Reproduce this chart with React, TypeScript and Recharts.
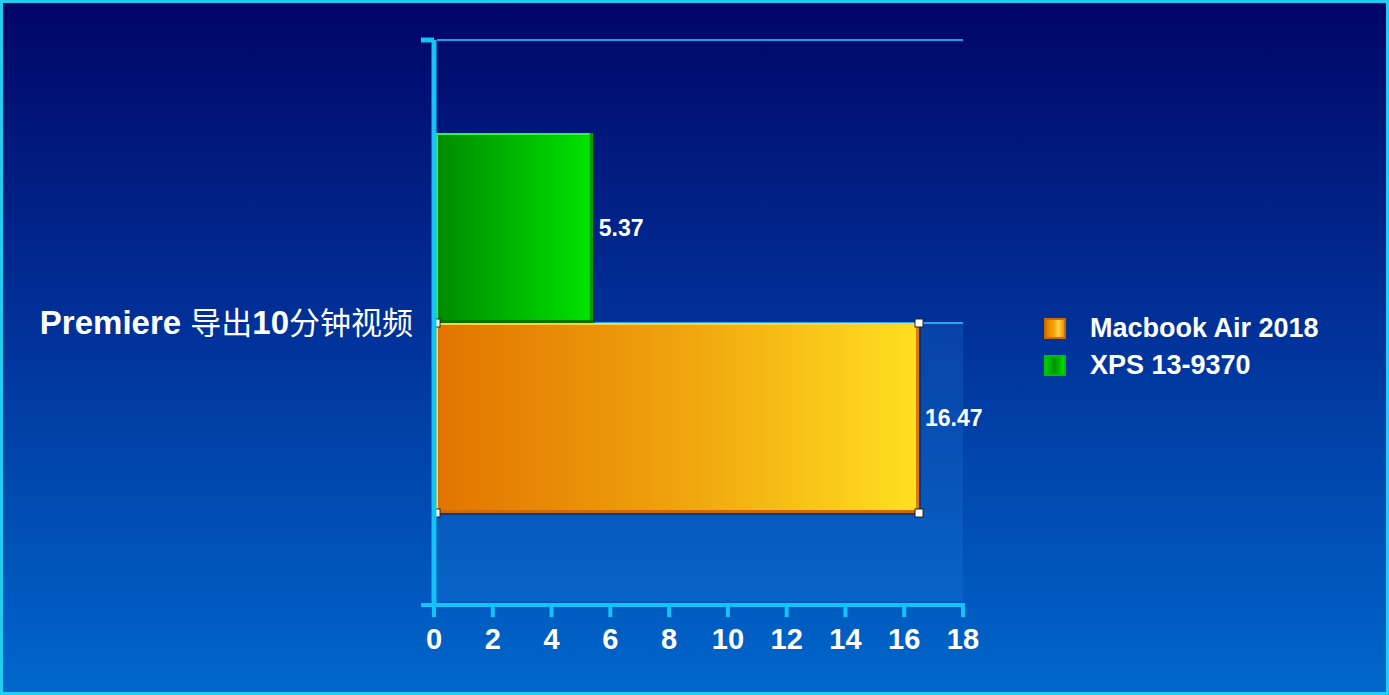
import { BarChart, Bar, XAxis, YAxis, Legend, LabelList } from "recharts"

// values
const categories = ["Premiere 导出10分钟视频"]
const macbookAir2018 = [16.47]
const xps139370 = [5.37]
const valueTicks = [0, 2, 4, 6, 8, 10, 12, 14, 16, 18]
const legendOrder = ["macbook", "xps"]

const data = categories.map((task, i) => ({
  task,
  macbook: macbookAir2018[i],
  xps: xps139370[i],
}))

const AXIS = "#14c3f7"
const FONT = "'Liberation Sans', Arial, 'Noto Sans CJK SC', sans-serif"
const CJK = /[\u4e00-\u9fff]/
const PLOT_WIDTH = 529

function CategoryTick(props: any) {
  const { x, y, payload } = props
  const half = payload?.offset ?? 0
  const parts = String(payload.value).split(/([\u4e00-\u9fff]+)/).filter(Boolean)
  return (
    <g>
      {/* plot frame top edge */}
      <line x1={x + 3} x2={x + PLOT_WIDTH} y1={y - half} y2={y - half} stroke="#1a9cf0" strokeWidth={2} />
      <line x1={x - 13} x2={x} y1={y - half} y2={y - half} stroke={AXIS} strokeWidth={5} />
      <line x1={x - 13} x2={x} y1={y + half} y2={y + half} stroke={AXIS} strokeWidth={4} />
      <text x={x - 21} y={y + 11} textAnchor="end" fill="#fff" fontFamily={FONT}>
        {parts.map((p, i) =>
          CJK.test(p) ? (
            <tspan key={i} fontSize={31} fontWeight={400} fontFamily="'Noto Sans CJK SC', sans-serif">
              {p}
            </tspan>
          ) : (
            <tspan key={i} fontSize={33} fontWeight={700}>
              {p}
            </tspan>
          )
        )}
      </text>
    </g>
  )
}

// lighter floor panel behind the lower bar
function PanelBackground(props: any) {
  const { x, y, width, height } = props
  const depth = height + 88
  return (
    <g>
      <rect x={x + 3} y={y} width={width - 3} height={depth} fill="#2a8ae8" opacity={0.2} />
      <line x1={x + 3} x2={x + width} y1={y} y2={y} stroke="#2aa6f0" strokeWidth={2} />
    </g>
  )
}

function XpsBar(props: any) {
  const { x, y, width, height } = props
  const left = x + 2
  const w = width - 1
  return (
    <g>
      <rect x={left + 2} y={y + 2} width={w} height={height} fill="#001650" opacity={0.45} />
      <rect x={left} y={y} width={w} height={height} fill="url(#gXps)" />
      <line x1={left} x2={left + w} y1={y + 1} y2={y + 1} stroke="#33f533" strokeWidth={2} />
      <line x1={left + 1} x2={left + 1} y1={y} y2={y + height} stroke="#33f533" strokeWidth={2} />
      <line x1={left + w - 1.5} x2={left + w - 1.5} y1={y} y2={y + height} stroke="#009a00" strokeWidth={3} />
      <line x1={left} x2={left + w} y1={y + height - 1.5} y2={y + height - 1.5} stroke="#007400" strokeWidth={3} />
    </g>
  )
}

function MacbookBar(props: any) {
  const { x, y, width, height } = props
  const left = x + 2
  const w = width - 1
  const corners = [
    [left, y],
    [left + w, y],
    [left, y + height],
    [left + w, y + height],
  ]
  return (
    <g>
      <rect x={left + 2} y={y + 2} width={w} height={height} fill="#001650" opacity={0.45} />
      <rect x={left} y={y} width={w} height={height} fill="url(#gMac)" />
      <line x1={left} x2={left + w} y1={y + 1} y2={y + 1} stroke="#ffd23a" strokeWidth={2} />
      <line x1={left + 1} x2={left + 1} y1={y} y2={y + height} stroke="#ffe040" strokeWidth={2} />
      <line x1={left + w - 1.5} x2={left + w - 1.5} y1={y} y2={y + height} stroke="#d9780e" strokeWidth={3} />
      <line x1={left} x2={left + w} y1={y + height - 1.5} y2={y + height - 1.5} stroke="#d06c08" strokeWidth={3} />
      {corners.map(([cx, cy], i) => (
        <rect key={i} x={cx - 4} y={cy - 4} width={8} height={8} fill="#fff" stroke="#222" strokeWidth={1} />
      ))}
    </g>
  )
}

const swatches: Record<string, { bg: string; border: string }> = {
  macbook: {
    bg: "linear-gradient(90deg, #e07a00 0%, #f6a600 45%, #ffd24a 70%, #f09000 100%)",
    border: "#c86a00",
  },
  xps: {
    bg: "linear-gradient(90deg, #00d000 0%, #009400 45%, #00b000 70%, #00e000 100%)",
    border: "#00c000",
  },
}

function LegendBox(props: any) {
  const items = [...(props.payload || [])].sort(
    (a: any, b: any) => legendOrder.indexOf(a.dataKey) - legendOrder.indexOf(b.dataKey)
  )
  return (
    <div style={{ fontFamily: FONT }}>
      {items.map((entry: any) => {
        const s = swatches[entry.dataKey as string]
        return (
          <div key={entry.dataKey} style={{ display: "flex", alignItems: "center", height: 37 }}>
            <div
              style={{
                width: 18,
                height: 17,
                background: s.bg,
                border: `2px solid ${s.border}`,
                marginRight: 24,
              }}
            />
            <span style={{ color: "#fff", fontSize: 27, fontWeight: 700, whiteSpace: "nowrap" }}>
              {entry.value}
            </span>
          </div>
        )
      })}
    </div>
  )
}

export default function App() {
  return (
    <div
      style={{
        position: "absolute",
        left: 0,
        top: 0,
        width: 1389,
        height: 695,
        overflow: "hidden",
        background: "linear-gradient(180deg, #000566 0%, #00329a 48%, #0068cc 100%)",
        boxShadow: "inset 0 0 0 3px #22cdf2",
      }}
    >
      <BarChart
        width={1389}
        height={695}
        data={data}
        layout="vertical"
        margin={{ top: 40, right: 426, bottom: 0, left: 0 }}
        barCategoryGap={93}
        barGap={0}
      >
        <defs>
          <linearGradient id="gXps" x1="0" y1="0" x2="1" y2="0">
            <stop offset="0%" stopColor="#008a00" />
            <stop offset="100%" stopColor="#00e400" />
          </linearGradient>
          <linearGradient id="gMac" x1="0" y1="0" x2="1" y2="0">
            <stop offset="0%" stopColor="#e27400" />
            <stop offset="50%" stopColor="#efa30e" />
            <stop offset="100%" stopColor="#ffe020" />
          </linearGradient>
        </defs>
        <XAxis
          type="number"
          domain={[0, 18]}
          ticks={valueTicks}
          interval={0}
          height={90}
          tickSize={12}
          tickMargin={11}
          axisLine={{ stroke: AXIS, strokeWidth: 4, strokeLinecap: "square" }}
          tickLine={{ stroke: AXIS, strokeWidth: 4 }}
          tick={{ fill: "#fff", fontSize: 29, fontWeight: 700, fontFamily: FONT }}
        />
        <YAxis
          type="category"
          dataKey="task"
          width={434}
          tickSize={0}
          tickMargin={0}
          tickLine={false}
          axisLine={{ stroke: AXIS, strokeWidth: 5 }}
          tick={<CategoryTick />}
        />
        <Legend
          layout="vertical"
          align="center"
          verticalAlign="middle"
          wrapperStyle={{ left: 1044, top: 310 }}
          content={<LegendBox />}
        />
        <Bar dataKey="xps" name="XPS 13-9370" fill="#00c000" shape={<XpsBar />} isAnimationActive={false}>
          <LabelList
            dataKey="xps"
            position="right"
            offset={7}
            fill="#fff"
            fontSize={23}
            fontWeight={700}
            fontFamily={FONT}
          />
        </Bar>
        <Bar
          dataKey="macbook"
          name="Macbook Air 2018"
          fill="#f0a000"
          background={<PanelBackground />}
          shape={<MacbookBar />}
          isAnimationActive={false}
        >
          <LabelList
            dataKey="macbook"
            position="right"
            offset={7}
            fill="#fff"
            fontSize={23}
            fontWeight={700}
            fontFamily={FONT}
          />
        </Bar>
      </BarChart>
    </div>
  )
}
